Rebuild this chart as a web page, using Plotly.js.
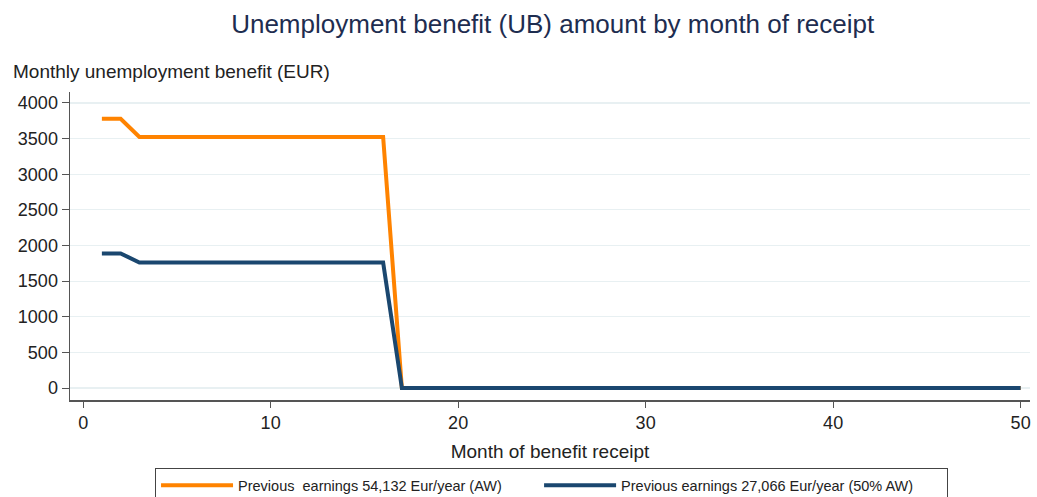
<!DOCTYPE html>
<html>
<head>
<meta charset="utf-8">
<script src="https://cdn.plot.ly/plotly-3.0.1.min.js"></script>
<style>html,body{margin:0;padding:0;background:#fff;}#chart{width:1037px;height:497px;}</style>
</head>
<body>
<div id="chart"></div>
<script>
// Data
const months = Array.from({length: 50}, (_, i) => i + 1);
const ubAW = [3778, 3778, 3524, 3524, 3524, 3524, 3524, 3524, 3524, 3524, 3524, 3524, 3524, 3524, 3524, 3524,
  0, 0, 0, 0, 0, 0, 0, 0, 0, 0, 0, 0, 0, 0, 0, 0, 0, 0, 0, 0, 0, 0, 0, 0, 0, 0, 0, 0, 0, 0, 0, 0, 0, 0];
const ub50AW = [1889, 1889, 1762, 1762, 1762, 1762, 1762, 1762, 1762, 1762, 1762, 1762, 1762, 1762, 1762, 1762,
  0, 0, 0, 0, 0, 0, 0, 0, 0, 0, 0, 0, 0, 0, 0, 0, 0, 0, 0, 0, 0, 0, 0, 0, 0, 0, 0, 0, 0, 0, 0, 0, 0, 0];
const seriesNames = ["Previous&nbsp; earnings 54,132 Eur/year (AW)", "Previous earnings 27,066 Eur/year (50% AW)"];
const xTicks = [0, 10, 20, 30, 40, 50];
const yTicks = [0, 500, 1000, 1500, 2000, 2500, 3000, 3500, 4000];

const font = "Liberation Sans, Arial, sans-serif";
const traces = [
  {x: months, y: ubAW, name: seriesNames[0] + "&nbsp;".repeat(8), mode: "lines", line: {color: "#ff8300", width: 4}},
  {x: months, y: ub50AW, name: seriesNames[1] + "&nbsp;".repeat(7), mode: "lines", line: {color: "#1a476f", width: 4}}
];
const layout = {
  width: 1037, height: 497,
  margin: {l: 70, r: 7, t: 92, b: 97, autoexpand: false},
  paper_bgcolor: "#fff", plot_bgcolor: "#fff",
  font: {family: font, color: "#222", size: 18},
  title: {text: "Unemployment benefit (UB) amount by month of receipt", x: 0.533, xanchor: "center", y: 0.952, yanchor: "middle",
    font: {family: font, size: 26, color: "#1e2d50"}},
  xaxis: {range: [-0.7, 50.5], tickvals: xTicks, ticks: "outside", ticklen: 6, tickcolor: "#555", tickwidth: 1,
    showline: true, linecolor: "#555", linewidth: 1.5, showgrid: false, zeroline: false,
    tickfont: {size: 18, color: "#222"},
    title: {text: "Month of benefit receipt", font: {size: 19, color: "#222"}, standoff: 12}},
  yaxis: {range: [-168, 4154], tickvals: yTicks, ticks: "outside", ticklen: 7, tickcolor: "#555", tickwidth: 1,
    showline: true, linecolor: "#555", linewidth: 1.5, showgrid: true, gridcolor: "#e8f0f2", gridwidth: 1.2, zeroline: false,
    tickfont: {size: 18, color: "#222"}},
  showlegend: true,
  legend: {orientation: "h", x: 0.5016, xanchor: "center", y: -0.222, yanchor: "top",
    bordercolor: "#444", borderwidth: 1, bgcolor: "#fff", font: {size: 14.5, color: "#222"},
    itemwidth: 72},
  annotations: [{text: "Monthly unemployment benefit (EUR)", xref: "paper", yref: "paper", x: -0.061, y: 1.066,
    xanchor: "left", yanchor: "middle", showarrow: false, font: {size: 19, color: "#222"}}]
};
Plotly.newPlot("chart", traces, layout, {displayModeBar: false, staticPlot: true});
</script>
</body>
</html>
